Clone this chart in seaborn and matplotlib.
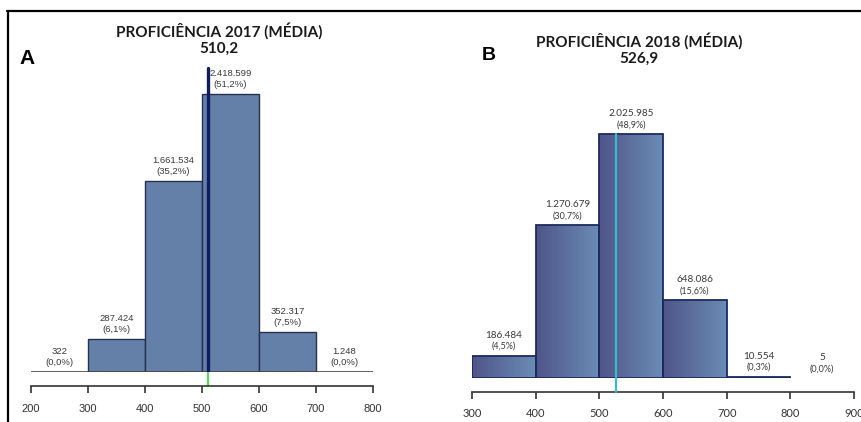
import numpy as np
import seaborn as sns
import matplotlib.pyplot as plt
from matplotlib.lines import Line2D
from matplotlib.colors import LinearSegmentedColormap

# proficiency bins and student counts
edges_2017 = [200, 300, 400, 500, 600, 700, 800]
counts_2017 = [322, 287424, 1661534, 2418599, 352317, 1248]
pct_2017 = [0.0, 6.1, 35.2, 51.2, 7.5, 0.0]
mean_2017 = 510.2

edges_2018 = [300, 400, 500, 600, 700, 800, 900]
counts_2018 = [186484, 1270679, 2025985, 648086, 10554, 5]
pct_2018 = [4.5, 30.7, 48.9, 15.6, 0.3, 0.0]
mean_2018 = 526.9

W, H = 862, 422


def fmt_count(n):
    return f"{n:,}".replace(",", ".")


def fmt_pct(p):
    return f"({p:.1f}%)".replace(".", ",")


def px_axes(x0, x1, ytop, ybot):
    # pixel box (from top-left) -> figure fraction
    return [x0 / W, (H - ybot) / H, (x1 - x0) / W, (ybot - ytop) / H]


def draw_panel(ax, edges, counts, pct, tick_pad, label_font, num_size, pct_size):
    mids = [(a + b) / 2 for a, b in zip(edges[:-1], edges[1:])]
    sns.histplot(x=mids, weights=counts, bins=edges, ax=ax,
                 color="#6580a8", edgecolor="#26304f", linewidth=1.0, alpha=1)
    top = max(counts)
    for p in ax.patches:
        if p.get_height() < 0.002 * top:
            p.set_visible(False)
    for m, c, pc in zip(mids, counts, pct):
        ax.annotate(fmt_count(c), (m, c), xytext=(0, 11.5), textcoords="offset points",
                    ha="center", va="bottom", fontsize=num_size, color="#3a3a3a",
                    family=label_font)
        ax.annotate(fmt_pct(pc), (m, c), xytext=(0, 3.5), textcoords="offset points",
                    ha="center", va="bottom", fontsize=pct_size, color="#3a3a3a",
                    family=label_font)
    ax.set_xlim(edges[0], edges[-1])
    ax.set_xticks(edges)
    ax.set_xlabel("")
    ax.set_ylabel("")
    ax.set_yticks([])
    for s in ("left", "top", "right"):
        ax.spines[s].set_visible(False)
    ax.spines["bottom"].set_position(("outward", 10))
    ax.spines["bottom"].set_linewidth(1.2)
    ax.spines["bottom"].set_color("#333333")
    ax.tick_params(axis="x", bottom=True, direction="out", length=5, width=1.2,
                   color="#333333", pad=tick_pad, labelsize=8, labelcolor="#333333")
    for t in ax.get_xticklabels():
        t.set_family(label_font)
    ax.set_facecolor("none")


sns.set_theme(style="white")
plt.rcParams["font.family"] = ["Liberation Sans", "DejaVu Sans"]

fig = plt.figure(figsize=(W / 100, H / 100), dpi=100)

# panel A
axA = fig.add_axes(px_axes(31, 373, 60, 372))
draw_panel(axA, edges_2017, counts_2017, pct_2017, 8, "Liberation Sans", 6.8, 6.8)
axA.set_ylim(0, max(counts_2017) * 312 / 278)
axA.axhline(0, color="#444444", lw=1.2, zorder=1.5)
axA.axvline(mean_2017, ymin=0, ymax=(372 - 68) / 312, color="#101c5e", lw=2.4, zorder=5)
axA.axvline(mean_2017, ymin=-14 / 312, ymax=0, color="#5cd65c", lw=1.6, clip_on=False)

# panel B
axB = fig.add_axes(px_axes(472, 854, 60, 378))
draw_panel(axB, edges_2018, counts_2018, pct_2018, 6.5, "Lato", 7.2, 6.5)
ylimB = max(counts_2018) * 318 / 244
cmap = LinearSegmentedColormap.from_list("bar", ["#50558a", "#6a8cb4"])
grad = np.linspace(0, 1, 64).reshape(1, -1)
for p in axB.patches:
    if not p.get_visible():
        continue
    x, w, h = p.get_x(), p.get_width(), p.get_height()
    p.set_facecolor("none")
    p.set_edgecolor("#1d2a5e")
    p.set_linewidth(1.3)
    im = axB.imshow(grad, extent=(x, x + w, 0, h), aspect="auto", cmap=cmap, zorder=1)
    im.set_clip_path(p)
    p.set_zorder(2)
axB.set_xlim(edges_2018[0], edges_2018[-1])
axB.set_ylim(0, ylimB)
axB.axvline(mean_2018, ymin=-14 / 318, ymax=max(counts_2018) / ylimB,
            color="#3ab9cc", lw=1.6, zorder=5, clip_on=False)

# titles and panel letters
title_kw = dict(ha="center", va="center", fontsize=11, fontweight="bold",
                family="Lato", color="#1a1a1a")
fig.text(219 / W, 1 - 31 / H, "PROFICIÊNCIA 2017 (MÉDIA)", **title_kw)
fig.text(219 / W, 1 - 49 / H, "510,2", **title_kw)
fig.text(639 / W, 1 - 41 / H, "PROFICIÊNCIA 2018 (MÉDIA)", **title_kw)
fig.text(639 / W, 1 - 59 / H, "526,9", **title_kw)
fig.text(27 / W, 1 - 59 / H, "A", ha="center", va="center",
         fontsize=15, fontweight="bold", color="black")
fig.text(489 / W, 1 - 56 / H, "B", ha="center", va="center",
         fontsize=14, fontweight="bold", color="black")

# frame lines of the original figure
fig.add_artist(Line2D([7 / W, 1], [1 - 10.5 / H] * 2, color="black", lw=1.6))
fig.add_artist(Line2D([8 / W] * 2, [0, 1 - 10.5 / H], color="black", lw=1.6))

fig.savefig("out.png", dpi=100)
